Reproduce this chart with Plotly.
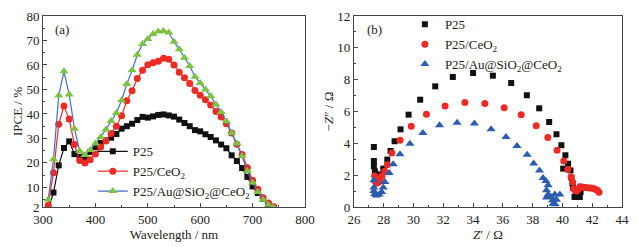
import plotly.graph_objects as go

# ---- Panel (a): IPCE spectra ----
wavelength = list(range(310, 750, 10))
ipce_p25 = [1.0, 7.9, 19.0, 26.1, 28.8, 23.6, 22.5, 21.6, 24.5, 26.5, 28.1, 29.2, 30.3, 31.8, 34.0, 35.0,
            36.0, 37.5, 38.8, 38.5, 39.0, 39.6, 39.8, 39.4, 38.9, 37.7, 36.3, 35.0, 33.4, 32.9, 31.7, 30.6,
            29.2, 27.5, 26.0, 23.1, 20.8, 17.9, 14.3, 10.4, 7.7, 5.3, 3.1, 2.0]
ipce_ceo2 = [2.7, 16.0, 35.8, 43.2, 37.9, 27.5, 21.0, 20.0, 21.3, 23.6, 26.5, 29.0, 32.0, 35.0, 39.3, 45.4,
             49.5, 54.5, 57.8, 60.1, 60.9, 61.5, 62.7, 62.3, 60.0, 57.0, 54.8, 52.4, 49.6, 47.6, 45.8, 43.7,
             41.0, 38.8, 36.0, 32.2, 27.6, 23.4, 18.0, 12.9, 9.2, 5.8, 3.6, 2.1]
ipce_au = [5.1, 21.5, 47.5, 57.4, 47.9, 34.0, 24.9, 23.2, 25.3, 27.9, 30.6, 33.6, 37.1, 40.4, 45.6, 52.2,
           57.8, 64.2, 68.6, 70.6, 72.7, 73.7, 73.9, 73.3, 69.5, 66.4, 63.0, 59.6, 55.2, 52.6, 50.0, 47.3,
           43.9, 40.8, 37.0, 32.2, 27.9, 22.7, 16.7, 11.9, 8.1, 5.0, 2.9, 1.8]

# ---- Panel (b): Nyquist plots ----
zre_p25 = [27.34, 27.34, 27.34, 27.41, 27.56, 27.65, 27.74, 27.97, 28.24, 28.46, 28.73, 29.13, 29.67, 30.45,
           31.46, 32.64, 34.0, 35.33, 36.56, 37.61, 38.44, 39.11, 39.6, 39.93, 40.2, 40.38, 40.05, 40.54,
           40.6, 40.67, 40.7, 40.81, 40.9, 41.0, 41.17, 41.08, 41.22]
zim_p25 = [3.77, 2.89, 2.56, 2.24, 1.88, 1.68, 2.05, 2.41, 2.98, 3.52, 4.13, 4.88, 5.8, 6.74,
           7.58, 8.17, 8.42, 8.25, 7.79, 7.02, 6.2, 5.34, 4.57, 3.88, 3.25, 2.72, 2.41, 2.3,
           1.85, 1.51, 1.22, 0.63, 0.78, 0.65, 0.63, 0.84, 0.95]
zre_ceo2 = [27.39, 27.43, 27.52, 27.65, 27.74, 27.88, 28.06, 28.24, 28.55, 29.1, 29.85, 30.87, 32.12, 33.45,
            34.79, 36.09, 37.23, 38.24, 39.02, 39.64, 40.09, 40.36, 40.58, 40.69, 40.76, 40.85, 40.95,
            41.05, 41.17, 41.3, 41.45, 41.6, 41.75, 41.9, 42.05, 42.2, 42.35, 42.46]
zim_ceo2 = [1.95, 1.61, 1.5, 1.55, 1.74, 1.95, 2.24, 2.66, 3.39, 4.19, 5.07, 5.82, 6.35, 6.56,
            6.51, 6.24, 5.8, 5.11, 4.36, 3.56, 2.89, 2.35, 1.88, 1.57, 1.15, 1.05, 1.0,
            1.1, 1.28, 1.25, 1.22, 1.22, 1.2, 1.2, 1.18, 1.12, 1.05, 0.92]
zre_au = [27.34, 27.34, 27.34, 27.39, 27.52, 27.7, 27.86, 27.97, 28.08, 28.37, 28.64, 29.09, 29.76, 30.63,
          31.75, 32.93, 34.09, 35.21, 36.21, 36.95, 37.63, 38.07, 38.46, 38.7, 38.89, 39.04, 38.93,
          39.04, 38.93, 39.27, 39.34, 39.37, 39.51, 39.6, 39.49, 39.83]
zim_au = [1.68, 1.22, 1.01, 0.8, 0.73, 0.78, 0.94, 1.22, 1.57, 2.14, 2.68, 3.31, 3.98, 4.65,
          5.13, 5.3, 5.24, 4.88, 4.4, 3.83, 3.29, 2.74, 2.3, 1.82, 1.63, 1.36, 1.05,
          0.78, 0.59, 0.63, 0.42, 0.2, 0.17, 0.46, 0.78, 0.78]

names = ["P25", "P25/CeO<sub>2</sub>", "P25/Au@SiO<sub>2</sub>@CeO<sub>2</sub>"]
ipce_xticks = [300, 400, 500, 600, 700, 800]
ipce_yticks = [2, 10, 20, 30, 40, 50, 60, 70, 80]
eis_xticks = [26, 28, 30, 32, 34, 36, 38, 40, 42, 44]
eis_yticks = [0, 2, 4, 6, 8, 10, 12]

FONT = "Liberation Serif"
BLACK = "#111111"
RED = "#ee2a24"
GREEN = "#7cc243"
LBLUE = "#3f6fc8"
DBLUE = "#2b5cb0"

fig = go.Figure()

# (a)
fig.add_trace(go.Scatter(x=wavelength, y=ipce_p25, mode="lines+markers", name=names[0],
                         line=dict(color=BLACK, width=1.2), marker=dict(symbol="square", size=6, color=BLACK),
                         xaxis="x", yaxis="y", legend="legend"))
fig.add_trace(go.Scatter(x=wavelength, y=ipce_ceo2, mode="lines+markers", name=names[1],
                         line=dict(color=RED, width=1.2), marker=dict(symbol="circle", size=7, color=RED),
                         xaxis="x", yaxis="y", legend="legend"))
fig.add_trace(go.Scatter(x=wavelength, y=ipce_au, mode="lines+markers", name=names[2],
                         line=dict(color=LBLUE, width=1.2), marker=dict(symbol="triangle-up", size=8, color=GREEN),
                         xaxis="x", yaxis="y", legend="legend"))

# (b)
fig.add_trace(go.Scatter(x=zre_p25, y=zim_p25, mode="markers", name=names[0],
                         marker=dict(symbol="square", size=6, color=BLACK),
                         xaxis="x2", yaxis="y2", legend="legend2"))
fig.add_trace(go.Scatter(x=zre_ceo2, y=zim_ceo2, mode="markers", name=names[1],
                         marker=dict(symbol="circle", size=7, color=RED),
                         xaxis="x2", yaxis="y2", legend="legend2"))
fig.add_trace(go.Scatter(x=zre_au, y=zim_au, mode="markers", name=names[2],
                         marker=dict(symbol="triangle-up", size=8, color=DBLUE),
                         xaxis="x2", yaxis="y2", legend="legend2"))

axis_common = dict(showline=True, mirror=True, linecolor="#444444", linewidth=1, ticks="inside",
                   ticklen=4, tickcolor="#444444", showgrid=False, zeroline=False, automargin=False,
                   tickfont=dict(family=FONT, size=13, color="#222222"))


def minor(**kw):
    return dict(ticks="inside", ticklen=2, tickcolor="#444444", **kw)


fig.update_layout(
    width=638, height=247,
    margin=dict(l=43, r=16, t=16, b=40, autoexpand=False),
    paper_bgcolor="white", plot_bgcolor="white",
    font=dict(family=FONT, size=13, color="#222222"),
    xaxis=dict(domain=[0, 0.4525], range=[300, 800], tickvals=ipce_xticks, anchor="y",
               title=dict(text="Wavelength / nm", standoff=4, font=dict(family=FONT, size=13)),
               minor=minor(dtick=50), **axis_common),
    yaxis=dict(domain=[0, 1], range=[2, 80], tickvals=ipce_yticks, anchor="x",
               title=dict(text="IPCE / %", standoff=0, font=dict(family=FONT, size=13)),
               minor=minor(tickvals=[5, 15, 25, 35, 45, 55, 65, 75]), **axis_common),
    xaxis2=dict(domain=[0.537, 1], range=[26, 44], tickvals=eis_xticks, anchor="y2",
                title=dict(text="<i>Z</i>′ / Ω", standoff=4, font=dict(family=FONT, size=13)),
                minor=minor(dtick=1), **axis_common),
    yaxis2=dict(domain=[0, 1], range=[0, 12], tickvals=eis_yticks, anchor="x2",
                title=dict(text="−<i>Z</i>″ / Ω", standoff=0, font=dict(family=FONT, size=13)),
                minor=minor(dtick=1), **axis_common),
    legend=dict(x=0.086, y=0.37, xanchor="left", yanchor="top", bgcolor="rgba(0,0,0,0)",
                font=dict(family=FONT, size=13), tracegroupgap=0, itemwidth=30),
    legend2=dict(x=0.625, y=1.035, xanchor="left", yanchor="top", bgcolor="rgba(0,0,0,0)",
                 font=dict(family=FONT, size=13), tracegroupgap=0, itemwidth=30),
    showlegend=True,
    annotations=[
        dict(text="(a)", xref="x domain", yref="y domain", x=0.04, y=0.93, showarrow=False,
             xanchor="left", yanchor="middle", font=dict(family=FONT, size=13)),
        dict(text="(b)", xref="x2 domain", yref="y2 domain", x=0.04, y=0.93, showarrow=False,
             xanchor="left", yanchor="middle", font=dict(family=FONT, size=13)),
    ],
)

fig.write_html("out.html", config={"displayModeBar": False},
               post_script="document.body.style.margin='0';document.body.style.padding='0';")
